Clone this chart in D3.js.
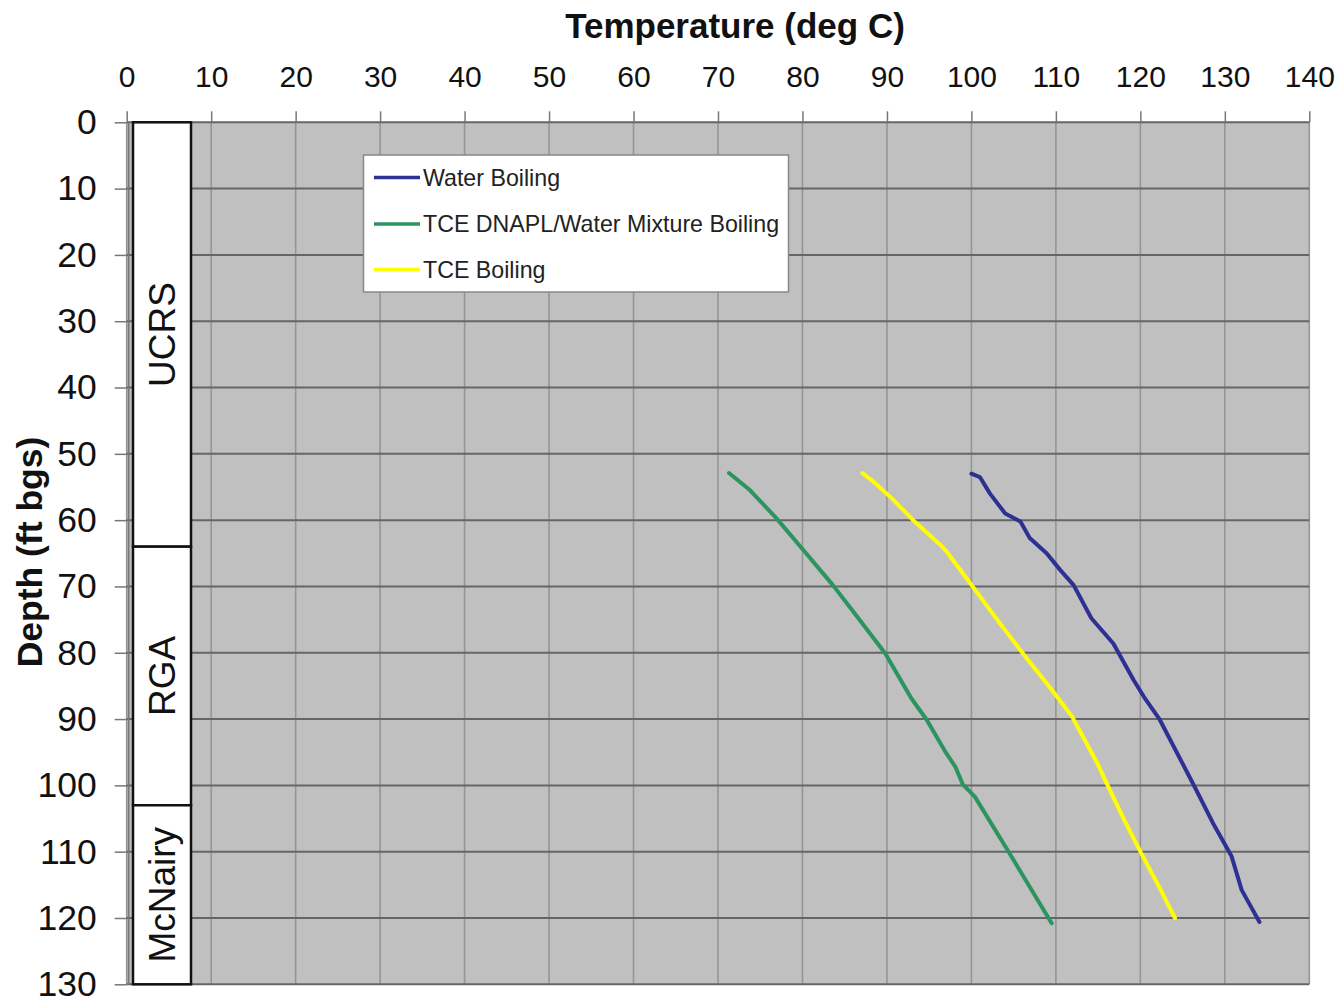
<!DOCTYPE html>
<html>
<head>
<meta charset="utf-8">
<script src="https://cdn.jsdelivr.net/npm/d3@7/dist/d3.min.js"></script>
<style>
  html, body { margin: 0; padding: 0; background: #fff; }
  svg { display: block; font-family: "Liberation Sans", Arial, sans-serif; }
</style>
</head>
<body>
<svg id="chart" width="1342" height="999"></svg>
<script>
// ---- Data ----
const xTicks = [0, 10, 20, 30, 40, 50, 60, 70, 80, 90, 100, 110, 120, 130, 140];
const yTicks = [0, 10, 20, 30, 40, 50, 60, 70, 80, 90, 100, 110, 120, 130];

const seriesNames = ["Water Boiling", "TCE DNAPL/Water Mixture Boiling", "TCE Boiling"];

const waterTemp  = [100.0, 101.0, 102.2, 104.0, 105.8, 106.9, 108.9, 110.5, 112.1, 114.2, 116.8, 119.2, 120.4, 122.3, 126.3, 128.6, 130.8, 132.0, 134.1];
const waterDepth = [53.0, 53.5, 56.0, 59.0, 60.2, 62.7, 65.0, 67.5, 69.8, 74.8, 78.6, 84.1, 86.6, 90.1, 99.9, 105.7, 110.7, 115.8, 120.6];

const mixTemp  = [71.3, 73.8, 76.9, 80.1, 83.6, 86.8, 89.8, 92.9, 94.7, 96.9, 98.1, 99.0, 100.4, 104.4, 109.5];
const mixDepth = [52.9, 55.5, 59.7, 64.5, 69.8, 75.1, 80.1, 86.9, 90.1, 94.9, 97.2, 99.9, 101.7, 110.0, 120.8];

const tceTemp  = [87.1, 88.4, 90.4, 93.1, 96.3, 97.1, 99.9, 103.4, 106.1, 108.9, 110.3, 111.9, 115.0, 116.2, 118.2, 120.0, 122.3, 124.1];
const tceDepth = [52.9, 54.2, 56.5, 60.0, 63.7, 64.8, 69.6, 75.6, 80.1, 84.6, 86.9, 89.6, 96.9, 100.2, 105.5, 110.0, 115.5, 120.0];

const strataNames  = ["UCRS", "RGA", "McNairy"];
const strataTop    = [0, 64, 103];
const strataBottom = [64, 103, 130];

// ---- Layout ----
const svg = d3.select("#chart");
const x = d3.scaleLinear().domain([0, 140]).range([126.7, 1309.3]);
const y = d3.scaleLinear().domain([0, 130]).range([122.3, 984.3]);
const FONT = '"Liberation Sans", Arial, sans-serif';

// plot background
svg.append("rect")
  .attr("x", x(0)).attr("y", y(0))
  .attr("width", x(140) - x(0)).attr("height", y(130) - y(0))
  .attr("fill", "#c0c0c0");

// vertical gridlines (lighter)
svg.append("g").selectAll("line").data(xTicks).join("line")
  .attr("x1", d => x(d)).attr("x2", d => x(d))
  .attr("y1", y(0)).attr("y2", y(130))
  .attr("stroke", "#959595").attr("stroke-width", 1.6);

// horizontal gridlines (darker)
svg.append("g").selectAll("line").data(yTicks).join("line")
  .attr("x1", x(0)).attr("x2", x(140))
  .attr("y1", d => y(d)).attr("y2", d => y(d))
  .attr("stroke", "#666").attr("stroke-width", 2);

// left axis double line
svg.append("line").attr("x1", x(0) + 2).attr("x2", x(0) + 2).attr("y1", y(0)).attr("y2", y(130))
  .attr("stroke", "#777").attr("stroke-width", 1.5);

// X axis (top)
const xAxis = svg.append("g")
  .attr("transform", `translate(0,${y(0)})`)
  .call(d3.axisTop(x).tickValues(xTicks).tickSize(11).tickPadding(24).tickSizeOuter(0));
xAxis.select(".domain").remove();
xAxis.selectAll(".tick line").attr("stroke", "#777").attr("stroke-width", 1.5);
xAxis.selectAll(".tick text")
  .attr("fill", "#111").style("font-family", FONT).style("font-size", "30px");

// Y axis (left)
const yAxis = svg.append("g")
  .attr("transform", `translate(${x(0)},0)`)
  .call(d3.axisLeft(y).tickValues(yTicks).tickSize(12).tickPadding(18).tickSizeOuter(0));
yAxis.select(".domain").remove();
yAxis.selectAll(".tick line").attr("stroke", "#777").attr("stroke-width", 1.5);
yAxis.selectAll(".tick text")
  .attr("fill", "#111").style("font-family", FONT).style("font-size", "35.5px");

// Axis titles
svg.append("text")
  .attr("x", 735).attr("y", 38)
  .attr("text-anchor", "middle")
  .style("font-family", FONT).style("font-size", "35px").style("font-weight", "bold")
  .attr("fill", "#111")
  .text("Temperature (deg C)");

svg.append("text")
  .attr("transform", "translate(42,552) rotate(-90)")
  .attr("text-anchor", "middle")
  .style("font-family", FONT).style("font-size", "35.5px").style("font-weight", "bold")
  .attr("fill", "#111")
  .text("Depth (ft bgs)");

// Strata column
const strata = strataNames.map((n, i) => ({ name: n, top: strataTop[i], bottom: strataBottom[i] }));
const colX0 = 133, colX1 = 191;
const sg = svg.append("g");
sg.selectAll("rect").data(strata).join("rect")
  .attr("x", colX0).attr("width", colX1 - colX0)
  .attr("y", d => y(d.top)).attr("height", d => y(d.bottom) - y(d.top))
  .attr("fill", "#fff").attr("stroke", "#111").attr("stroke-width", 2.5);
sg.selectAll("text").data(strata).join("text")
  .attr("transform", d => `translate(175,${y((d.top + d.bottom) / 2)}) rotate(-90)`)
  .attr("text-anchor", "middle")
  .style("font-family", FONT).style("font-size", "37px")
  .attr("fill", "#111")
  .text(d => d.name);

// Series
const series = [
  { name: seriesNames[0], color: "#2e3192", temp: waterTemp, depth: waterDepth },
  { name: seriesNames[1], color: "#2b9460", temp: mixTemp, depth: mixDepth },
  { name: seriesNames[2], color: "#ffff00", temp: tceTemp, depth: tceDepth }
];
const line = d3.line().x(d => x(d[0])).y(d => y(d[1]));
svg.append("g").selectAll("path").data(series).join("path")
  .attr("d", s => line(s.temp.map((t, i) => [t, s.depth[i]])))
  .attr("fill", "none")
  .attr("stroke", s => s.color)
  .attr("stroke-width", 4)
  .attr("stroke-linejoin", "round")
  .attr("stroke-linecap", "round");

// Legend
const lg = svg.append("g");
lg.append("rect")
  .attr("x", 363.5).attr("y", 155).attr("width", 425).attr("height", 137)
  .attr("fill", "#fff").attr("stroke", "#888").attr("stroke-width", 1.5);
const legY = [177.5, 224, 269.5];
series.forEach((s, i) => {
  lg.append("line")
    .attr("x1", 374).attr("x2", 420).attr("y1", legY[i]).attr("y2", legY[i])
    .attr("stroke", s.color).attr("stroke-width", 3.5);
  lg.append("text")
    .attr("x", 423).attr("y", legY[i] + 8)
    .style("font-family", FONT).style("font-size", "23.2px")
    .attr("fill", "#222")
    .text(s.name);
});
</script>
</body>
</html>
